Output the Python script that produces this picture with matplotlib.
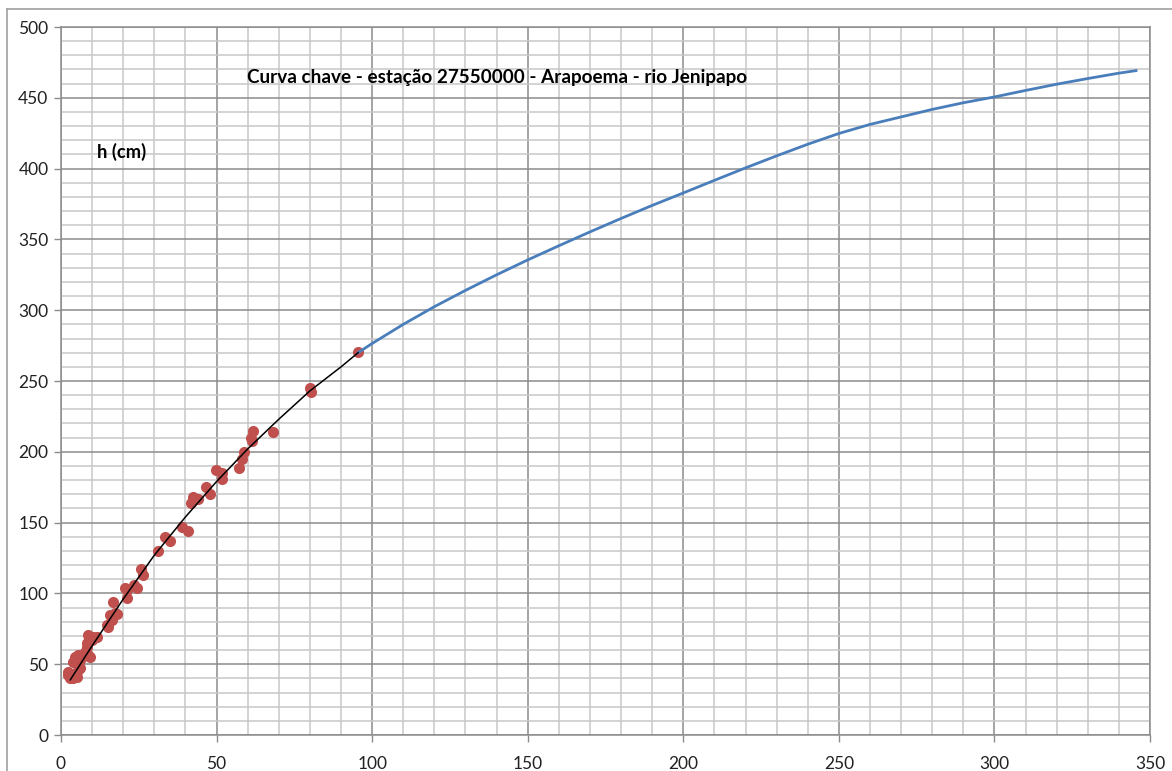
import numpy as np
import matplotlib
matplotlib.use("Agg")
import matplotlib.pyplot as plt
from matplotlib.lines import Line2D

plt.rcParams['font.family'] = ['Lato', 'DejaVu Sans']

# medições de vazão (m3/s) e cota (cm)
q_obs = [95.5, 80.0, 80.3, 61.8, 68.2, 61.1, 61.3, 58.8, 58.1, 57.3,
         49.7, 51.7, 51.7, 46.5, 47.9, 42.5, 41.7, 44.1, 38.8, 40.7,
         33.4, 35.0, 31.3, 25.6, 26.5, 23.5, 20.6, 21.3, 24.3, 21.1,
         16.8, 17.4, 15.8, 16.3, 15.2, 14.7, 18.1, 8.8, 10.4, 11.5,
         9.9, 8.3, 8.5, 7.7, 8.8, 9.3, 4.5, 5.6, 6.6, 3.95,
         5.0, 6.1, 6.1, 5.6, 2.3, 2.3, 2.9, 4.0, 5.0]
h_obs = [270.5, 244.8, 242.4, 214.9, 214.2, 209.7, 207.6, 200.1, 194.7, 188.3,
         187.1, 184.8, 180.6, 175.4, 170.0, 167.9, 164.1, 166.5, 147.2, 144.1,
         140.0, 137.0, 130.2, 117.2, 113.0, 106.0, 103.6, 102.4, 103.6, 97.0,
         94.1, 86.0, 84.7, 81.2, 76.5, 78.0, 85.4, 70.6, 69.4, 69.4,
         67.1, 64.8, 62.4, 58.8, 56.5, 55.3, 55.3, 56.5, 55.3, 51.8,
         51.8, 53.0, 47.1, 45.9, 44.7, 42.4, 40.0, 40.0, 41.2]

# curva ajustada no trecho medido
q_fit = [3, 10, 20, 30, 40, 50, 60, 70, 80, 90, 95.5]
h_fit = [39, 63, 96, 127, 154, 179, 202, 223, 243, 260, 270]

# extrapolação da curva
q_ext = [95.5, 100, 110, 120, 130, 140, 150, 160, 170, 180, 190, 200,
         210, 220, 230, 240, 250, 260, 270, 280, 290, 300, 310, 320,
         330, 340, 345.5]
h_ext = [270, 276.5, 290, 302.5, 314, 325, 335.5, 345.5, 355.3, 364.8,
         374, 382.8, 391.7, 400.5, 409, 417.2, 424.8, 431.2, 436.5, 441.8,
         446.5, 450.6, 455.2, 459.6, 463.6, 467.4, 469.2]

fig = plt.figure(figsize=(11.72, 7.71), dpi=100)
ax = fig.add_axes([61 / 1172, 1 - 735 / 771, 1089 / 1172, 708 / 771])

ax.scatter(q_obs, h_obs, s=64, color='#C0504D', linewidths=0, zorder=3)
ax.plot(q_ext, h_ext, color='#4A7EBB', lw=2.0, zorder=4)
ax.plot(q_fit, h_fit, color='black', lw=1.1, zorder=5)

ax.set_xlim(0, 350)
ax.set_ylim(0, 500)
ax.set_xticks(np.arange(0, 351, 50))
ax.set_yticks(np.arange(0, 501, 50))
ax.set_xticks(np.arange(0, 351, 10), minor=True)
ax.set_yticks(np.arange(0, 501, 10), minor=True)
ax.grid(which='minor', color='#c8c8c8', lw=1.1, zorder=0)
ax.grid(which='major', color='#8c8c8c', lw=1.1, zorder=1)
ax.set_axisbelow(True)
ax.tick_params(which='minor', length=0)
ax.tick_params(which='major', length=5, width=1, color='#8c8c8c',
               labelsize=12.5, labelcolor='#222222')
ax.tick_params(axis='x', pad=10)
ax.tick_params(axis='y', pad=4)
for s in ax.spines.values():
    s.set_color('#8c8c8c')
    s.set_linewidth(1.1)

ax.text(0.400, 0.929, 'Curva chave - estação 27550000 - Arapoema - rio Jenipapo',
        transform=ax.transAxes, ha='center', va='center',
        fontsize=13.6, fontweight='bold')
ax.text(11.6, 412, 'h (cm)', ha='left', va='center',
        fontsize=13.2, fontweight='bold')

# moldura da área do gráfico
fig.add_artist(Line2D([7 / 1172, 7 / 1172], [0, 1 - 9 / 771],
                      transform=fig.transFigure, color='#a0a0a0', lw=1.2))
fig.add_artist(Line2D([7 / 1172, 1], [1 - 9 / 771, 1 - 9 / 771],
                      transform=fig.transFigure, color='#a0a0a0', lw=1.2))

fig.savefig('out.png', dpi=100)
